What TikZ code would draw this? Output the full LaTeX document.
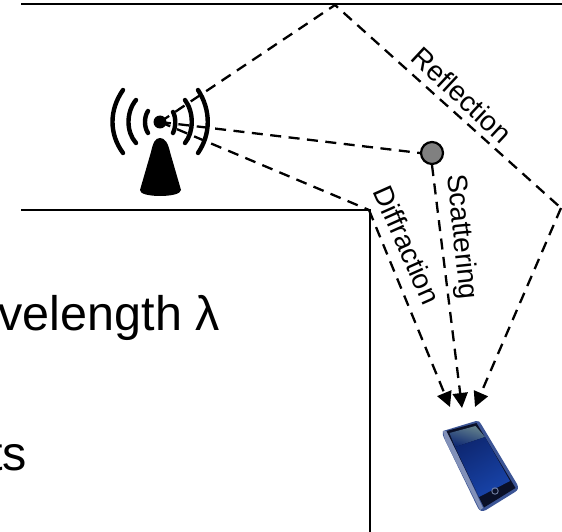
\documentclass[tikz,border=0pt]{standalone}
\usepackage{fontspec}
\setmainfont{Liberation Sans}
\usetikzlibrary{arrows.meta}
\definecolor{scatgray}{RGB}{128,128,128}
\definecolor{phonedark}{RGB}{10,16,40}
\definecolor{phoneblue}{RGB}{24,68,170}
\definecolor{phonemid}{RGB}{14,40,115}
\definecolor{phonelight}{RGB}{100,130,140}
\definecolor{phoneedge}{RGB}{60,85,150}
\definecolor{phoneside}{RGB}{130,145,185}
\tikzset{
  wall/.style={line width=2.6pt,black},
  ray/.style={line width=2.3pt,black,dash pattern=on 11pt off 7.5pt},
  rayend/.style={ray,-{Triangle[length=15pt,width=15pt]}},
  wave/.style={line width=4.4pt,black,line cap=round},
  lab/.style={font=\fontsize{28}{28}\selectfont,inner sep=0pt},
  big/.style={font=\fontsize{48.5}{48.5}\selectfont,inner sep=0pt,anchor=base east}
}
\begin{document}
\begin{tikzpicture}[x=1pt,y=-1pt]
\useasboundingbox (0,0) rectangle (562,532);
\clip (0,0) rectangle (562,532);
\fill[white] (0,0) rectangle (562,532);
\coordinate (tx) at (160,122);
\coordinate (bounce) at (335,5);
\coordinate (side) at (561,208);
\coordinate (corner) at (369,210);
\coordinate (tipA) at (450,407);
\coordinate (tipB) at (462,408);
\coordinate (tipC) at (475,407);
% walls
\coordinate (topA) at (21,4);
\coordinate (topB) at (562,4);
\coordinate (wallA) at (21,210);
\coordinate (wallB) at (370,532);
\draw[wall] (topA) -- (topB);
\draw[wall] (wallA) -- (corner -| wallB) -- (wallB);
% antenna
\fill (160,122) circle (6.5);
\fill (160,138) .. controls (155,138) and (153,143) .. (151,152) -- (140,190) .. controls (139,198) and (181,198) .. (181,190) -- (170,152) .. controls (168,143) and (165,138) .. (160,138) -- cycle;
\draw[wave] (123,90) .. controls (109,110) and (109,134) .. (123,153);
\draw[wave] (136,100) .. controls (126,112) and (126,132) .. (136,143);
\draw[wave] (148,111) .. controls (144,117) and (144,127) .. (148,133);
\draw[wave] (173,112) .. controls (176,117) and (176,127) .. (173,133);
\draw[wave] (185,100) .. controls (194,112) and (194,132) .. (185,143);
\draw[wave] (198,90) .. controls (211,110) and (211,134) .. (198,153);
% scatterer
\node[circle,draw=black,line width=2.2pt,fill=scatgray,minimum size=22pt,inner sep=0pt] (scat) at (432,153) {};
% rays
\draw[ray] (tx) -- (bounce) -- (side);
\draw[rayend] (side) -- (tipC);
\draw[ray] (tx) -- (scat.west);
\draw[rayend] (scat.south) -- (tipB);
\draw[ray] (tx) -- (corner);
\draw[rayend] (corner) -- (tipA);
% labels
\node[lab,rotate=-43] (lr) at (462,95) {Reflection};
\node[lab,rotate=-84] (ls) at (461,237) {Scattering};
\node[lab,rotate=-66] (ld) at (407,245) {Diffraction};
\node[big] (t1) at (220,330) {velength λ};
\node[big] (t2) at (27,470) {ts};
% phone
\fill[phoneedge] (443,431) -- (476,421) .. controls (479,420.5) and (480,422) .. (481,424) -- (517,484) .. controls (519,488) and (518,490) .. (515,492) -- (486,510) .. controls (482,512) and (480,511) .. (478,508) -- (445,440) .. controls (443,436) and (442,433) .. (443,431) -- cycle;
\fill[phoneside] (443,431) -- (447,431) -- (483,508) -- (480,510) -- (445,440) -- cycle;
\fill[phonedark] (446.5,431) -- (476.5,423) -- (515.5,488) -- (484,507.5) -- cycle;
\shade[top color=phonelight,bottom color=phonemid,shading angle=-17] (449.5,433) -- (475.5,426) -- (485,437) -- (455,447) -- cycle;
\shade[left color=phonemid,right color=phoneblue,shading angle=30] (455,447) -- (485,437) -- (510,481) -- (479,497) -- cycle;
\draw[black!15!phoneside,line width=1pt] (495,491) circle (3.2);
\fill[phonedark] (495,491) circle (2.2);
\end{tikzpicture}
\end{document}
